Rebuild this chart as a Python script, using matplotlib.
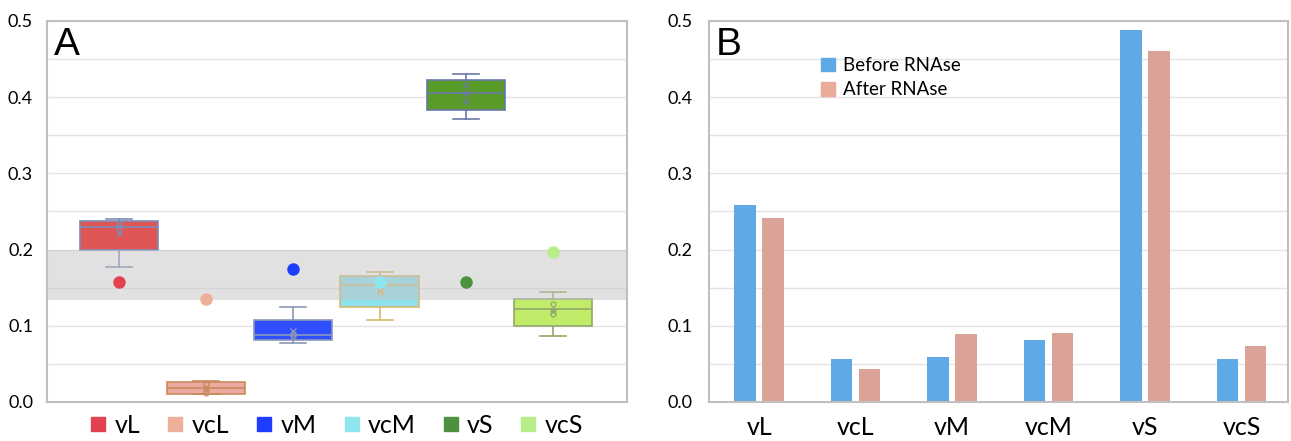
import matplotlib
matplotlib.use('Agg')
import matplotlib.pyplot as plt
from matplotlib.lines import Line2D
from matplotlib.patches import Patch
from matplotlib.ticker import MultipleLocator
import numpy as np

plt.rcParams['font.family'] = ['Lato', 'DejaVu Sans']

groups = ['vL', 'vcL', 'vM', 'vcM', 'vS', 'vcS']

# panel A: box statistics
q1 = [0.200, 0.010, 0.082, 0.125, 0.383, 0.100]
med = [0.230, 0.018, 0.088, 0.153, 0.406, 0.122]
q3 = [0.237, 0.026, 0.107, 0.165, 0.423, 0.135]
whis_lo = [0.177, 0.010, 0.078, 0.108, 0.371, 0.086]
whis_hi = [0.240, 0.028, 0.125, 0.170, 0.431, 0.145]
means = [0.222, 0.018, 0.093, 0.146, 0.405, 0.119]
inner_pts = [[0.234, 0.230], [0.024, 0.017, 0.012], [0.089, 0.086],
             [0.143, 0.148], [0.416, 0.395], [0.128, 0.116, 0.121]]
ref_vals = [0.158, 0.135, 0.175, 0.158, 0.157, 0.197]
band_lo, band_hi = 0.134, 0.200

# panel B: bar heights
before = [0.258, 0.056, 0.059, 0.081, 0.488, 0.056]
after = [0.242, 0.043, 0.089, 0.090, 0.461, 0.074]

box_fill = ['#DE5553', '#EBAAA0', '#2F4EFF', '#8DE1EC', '#5A9C2A', '#C0EC6A']
box_edge = ['#7C8CB8', '#C98A5E', '#8A97B6', '#D4B86A', '#6A78A8', '#94A86A']
dot_col = ['#E2424F', '#EDB09A', '#1F3DFF', '#8FE5EE', '#4C9140', '#B7EE8A']
frame_col = '#BFBFBF'
grid_col = '#E4E4E4'

fig = plt.figure(figsize=(12.91, 4.41), dpi=100)
axA = fig.add_axes([47 / 1291, 1 - 402 / 441, 580 / 1291, 381 / 441])
axB = fig.add_axes([709 / 1291, 1 - 402 / 441, 579 / 1291, 381 / 441])


def style_axes(ax, pad):
    ax.set_ylim(0, 0.5)
    ax.yaxis.set_major_locator(MultipleLocator(0.1))
    ax.yaxis.set_minor_locator(MultipleLocator(0.05))
    ax.yaxis.set_major_formatter(plt.FuncFormatter(lambda v, p: '%.1f' % v))
    ax.grid(True, axis='y', which='both', color=grid_col, lw=1.0)
    ax.set_axisbelow(True)
    ax.tick_params(axis='y', which='both', length=0, labelsize=13, pad=pad)
    ax.tick_params(axis='x', length=0)
    for s in ax.spines.values():
        s.set_color(frame_col)
        s.set_linewidth(1.5)


# ---- panel A
pos = np.arange(len(groups))
stats = []
for i in range(len(groups)):
    stats.append(dict(med=med[i], q1=q1[i], q3=q3[i], whislo=whis_lo[i],
                      whishi=whis_hi[i], mean=means[i], fliers=[]))

bp = axA.bxp(stats, positions=pos, widths=0.9, capwidths=0.3, patch_artist=True,
             showmeans=True, zorder=2)
for i in range(len(groups)):
    bp['boxes'][i].set(facecolor=box_fill[i], edgecolor=box_edge[i], lw=1.2)
    bp['medians'][i].set(color=box_edge[i], lw=1.2)
    for k in (2 * i, 2 * i + 1):
        bp['whiskers'][k].set(color=box_edge[i], lw=1.2)
        bp['caps'][k].set(color=box_edge[i], lw=1.2)
    bp['means'][i].set(marker='x', markersize=5, markeredgecolor=box_edge[i],
                       markerfacecolor='none', markeredgewidth=1)
    axA.plot([pos[i]] * len(inner_pts[i]), inner_pts[i], 'o', ms=3.5,
             mfc='none', mec=box_edge[i], mew=0.9, zorder=3)

# grey reference band drawn over the boxes, dots on top
axA.axhspan(band_lo, band_hi, color='#C4C4C4', alpha=0.5, lw=0, zorder=3)
for i in range(len(groups)):
    axA.plot(pos[i], ref_vals[i], 'o', ms=9, color=dot_col[i], mec='none', zorder=4)

axA.set_xlim(-0.83, 5.85)
axA.set_xticks([])
style_axes(axA, 10)
axA.text(0.012, 0.985, 'A', transform=axA.transAxes, fontsize=28,
         family='Liberation Sans', va='top', ha='left')

handles = [Line2D([], [], marker='s', ls='', color=c, markersize=9.5) for c in dot_col]
axA.legend(handles, groups, loc='center', bbox_to_anchor=(0.5, -0.062),
           ncol=6, frameon=False, fontsize=18, handlelength=0.6,
           handletextpad=0.35, columnspacing=1.1, borderpad=0)

# ---- panel B
x = np.arange(len(groups))
axB.bar(x - 0.145, before, 0.223, color='#5FAAE6', label='Before RNAse', zorder=2)
axB.bar(x + 0.145, after, 0.223, color='#DBA398', label='After RNAse', zorder=2)
axB.set_xlim(-0.52, 5.48)
axB.set_xticks(x)
axB.set_xticklabels(groups, fontsize=18)
axB.tick_params(axis='x', pad=10)
style_axes(axB, 12)
axB.text(0.012, 0.985, 'B', transform=axB.transAxes, fontsize=28,
         family='Liberation Sans', va='top', ha='left')
leg_handles = [Patch(color='#5FAAE6'), Patch(color='#E8AC98')]
axB.legend(leg_handles, ['Before RNAse', 'After RNAse'], loc='upper left',
           bbox_to_anchor=(0.17, 0.94), frameon=False, fontsize=13.5,
           handlelength=0.75, handleheight=0.75, handletextpad=0.45,
           labelspacing=0.4, borderpad=0.2)

fig.savefig('out.png', dpi=100)
